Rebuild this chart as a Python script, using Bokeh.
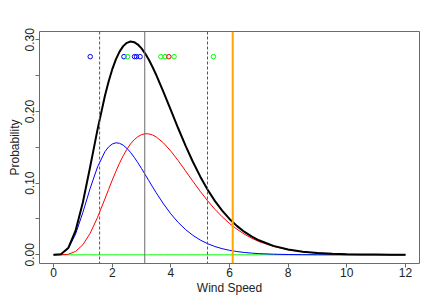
from bokeh.plotting import figure
from bokeh.models import Range1d, FixedTicker, Span, ColumnDataSource
from bokeh.embed import file_html
from bokeh.resources import INLINE

# ---- data ----
wind = [0, 0.25, 0.5, 0.75, 1.0, 1.25, 1.5, 1.75, 1.875, 2.0, 2.125, 2.25, 2.375, 2.5,
        2.625, 2.75, 2.875, 3.0, 3.125, 3.25, 3.375,
        3.5, 3.75, 4.0, 4.25, 4.5, 4.75, 5.0, 5.25, 5.5, 5.75, 6.0, 6.25, 6.5, 6.75,
        7.0, 7.5, 8.0, 8.5, 9.0, 9.5, 10.0, 10.5, 11.0, 11.5, 12.0]
blue_prob = [0, 0.0008, 0.0086, 0.0289, 0.0593, 0.0930, 0.1227, 0.1438, 0.1505, 0.1546,
             0.1563, 0.1556, 0.1530, 0.1486, 0.1429, 0.1361, 0.1285, 0.1204, 0.1119,
             0.1034, 0.0949,
             0.0866, 0.0710, 0.0571, 0.0452, 0.0353,
             0.0272, 0.0207, 0.0156, 0.0116, 0.0086, 0.0063, 0.0046, 0.0033, 0.0024,
             0.0017, 0.0009, 0.0004, 0.0002, 0.0001, 0.00005, 0.00002, 0.0, 0.0, 0.0, 0.0]
red_prob = [0, 0.0000, 0.0008, 0.0047, 0.0141, 0.0302, 0.0523, 0.0779, 0.0911, 0.1041,
            0.1164, 0.1279, 0.1382, 0.1472, 0.1547, 0.1606, 0.1649, 0.1677, 0.1689,
            0.1687, 0.1672,
            0.1645, 0.1561, 0.1447, 0.1314, 0.1171,
            0.1027, 0.0887, 0.0756, 0.0637, 0.0531, 0.0438, 0.0358, 0.0290, 0.0233,
            0.0186, 0.0116, 0.0071, 0.0042, 0.0025, 0.0014, 0.0008, 0.0005, 0.0003,
            0.0001, 0.0001]
green_prob = [0.0] * len(wind)
total_prob = [0, 0.0008, 0.0094, 0.0336, 0.0734, 0.1232, 0.1750, 0.2217, 0.2416, 0.2587,
              0.2727, 0.2835, 0.2912, 0.2958, 0.2976, 0.2967, 0.2934, 0.2881, 0.2808,
              0.2721, 0.2621,
              0.2511, 0.2271, 0.2018, 0.1766, 0.1524,
              0.1299, 0.1094, 0.0912, 0.0753, 0.0617, 0.0501, 0.0404, 0.0323, 0.0257,
              0.0203, 0.0125, 0.0075, 0.0044, 0.0026, 0.0015, 0.0008, 0.0005, 0.0003,
              0.0001, 0.0001]

obs_blue = [1.25, 2.40, 2.76, 2.83, 2.95]
obs_green = [2.52, 3.66, 3.80, 4.11, 5.45]
obs_red = [3.93]

dashed_marks = [1.57, 5.25]
solid_mark = 3.11
orange_mark = 6.11

x_ticks = [0, 2, 4, 6, 8, 10, 12]
y_ticks = [0.0, 0.10, 0.20, 0.30]
y_minor = [0.05, 0.15, 0.25]
y_tick_labels = {0.0: "0.00", 0.10: "0.10", 0.20: "0.20", 0.30: "0.30"}

FONT = "Liberation Sans"

p = figure(width=436, height=303, output_backend="svg", toolbar_location=None,
           x_range=Range1d(-0.48, 12.48), y_range=Range1d(-0.0121, 0.3116),
           min_border_left=39, min_border_right=17, min_border_top=31, min_border_bottom=40)
p.grid.visible = False
p.outline_line_color = "#6a6a6a"
p.outline_line_width = 1
p.background_fill_color = "white"
p.border_fill_color = "white"

src = ColumnDataSource(dict(x=wind, blue=blue_prob, red=red_prob, green=green_prob,
                            total=total_prob))
p.line("x", "green", source=src, color="#00ff00", line_width=1)
p.line("x", "blue", source=src, color="#0000ff", line_width=1)
p.line("x", "red", source=src, color="#ff0000", line_width=1)
p.line("x", "total", source=src, color="black", line_width=2)

row_y = 0.2765
for xs, col in ((obs_blue, "#0000ff"), (obs_green, "#00ff00"), (obs_red, "#ff0000")):
    p.scatter(xs, [row_y] * len(xs), marker="circle", size=4.5, fill_color=None,
              line_color=col, line_width=1)

for xv in dashed_marks:
    p.add_layout(Span(location=xv, dimension="height", line_color="#555555",
                      line_width=1, line_dash="3 2"))
p.add_layout(Span(location=solid_mark, dimension="height", line_color="#6a6a6a",
                  line_width=1))
p.add_layout(Span(location=orange_mark, dimension="height", line_color="#ffa500",
                  line_width=2))

xa = p.xaxis[0]
xa.ticker = FixedTicker(ticks=x_ticks)
ya = p.yaxis[0]
ya.ticker = FixedTicker(ticks=y_ticks, minor_ticks=y_minor)
ya.major_label_overrides = y_tick_labels
ya.major_label_orientation = "vertical"
for ax in (xa, ya):
    ax.axis_line_color = None
    ax.major_tick_line_color = "#6a6a6a"
    ax.minor_tick_line_color = "#6a6a6a"
    ax.major_tick_in = 0
    ax.major_tick_out = 4
    ax.major_label_text_font = FONT
    ax.major_label_text_font_size = "12px"
    ax.major_label_text_color = "#222222"
    ax.major_label_standoff = 1
    ax.axis_label_text_font = FONT
    ax.axis_label_text_font_size = "12px"
    ax.axis_label_text_font_style = "normal"
    ax.axis_label_text_color = "#222222"
    ax.axis_label_standoff = 1
xa.minor_tick_line_color = None
xa.major_label_standoff = 0
ya.minor_tick_in = 0
ya.minor_tick_out = 4
xa.axis_label = "Wind Speed"
ya.axis_label = "Probability"

open("out.html", "w").write(file_html(p, INLINE))
